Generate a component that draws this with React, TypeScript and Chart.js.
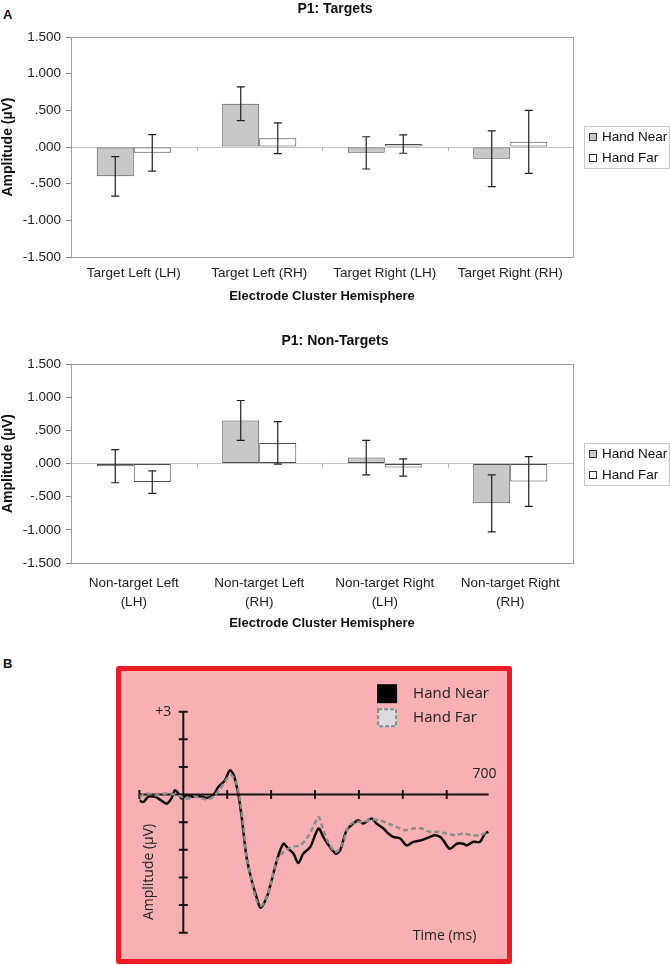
import { useEffect, useRef } from "react"
import { Chart, registerables, ChartConfiguration, Plugin } from "chart.js"

Chart.register(...registerables)

const AXIS_FONT = "'Liberation Sans', Arial, sans-serif"
const ERP_FONT = "'Open Sans', 'Noto Sans', sans-serif"
Chart.defaults.font.family = AXIS_FONT

// the figure is laid out from the page's top-left corner
document.body.style.margin = "0"

// Panel A, top: targets
const targetCategories = ["Target Left (LH)", "Target Left (RH)", "Target Right (LH)", "Target Right (RH)"]
const targetNear = [-0.4, 0.59, -0.08, -0.16]
const targetNearErr = [0.27, 0.23, 0.22, 0.38]
const targetFar = [-0.08, 0.12, 0.04, 0.07]
const targetFarErr = [0.25, 0.21, 0.125, 0.43]

// Panel A, bottom: non-targets
const nonTargetCategories = [
	["Non-target Left", "(LH)"],
	["Non-target Left", "(RH)"],
	["Non-target Right", "(LH)"],
	["Non-target Right", "(RH)"]
]
const nonTargetNear = [-0.04, 0.65, 0.09, -0.6]
const nonTargetNearErr = [0.25, 0.3, 0.26, 0.43]
const nonTargetFar = [-0.28, 0.31, -0.06, -0.27]
const nonTargetFarErr = [0.17, 0.32, 0.13, 0.375]

// Panel B: ERP waveforms (ms, µV)
const nearTimes = [
	-100, -91, -80, -65, -53, -38, -27, -19, -11, -4, 8, 23, 38, 53, 68, 80, 95, 106, 115, 125, 133, 144, 156, 167, 176,
	190, 201, 213, 228, 239, 251, 262, 273, 289, 308, 319, 334, 348, 357, 372, 387, 399, 410, 429, 440, 456, 467, 478,
	494, 509, 524, 543, 562, 573, 585, 592, 607, 623, 638, 645, 661, 676, 687, 695
]
const nearAmplitude = [
	-0.21, -0.27, -0.08, -0.08, -0.18, -0.33, -0.14, 0.16, 0.04, -0.14, -0.02, -0.08, -0.06, -0.12, -0.02, 0.28, 0.52,
	0.88, 0.7, 0.04, -0.81, -2.26, -3.12, -3.72, -4.1, -3.72, -3.12, -2.39, -1.78, -1.96, -2.14, -2.48, -2.14, -1.9,
	-1.23, -1.54, -1.9, -2.14, -2.02, -1.29, -1.05, -0.93, -1.05, -0.87, -1.05, -1.23, -1.41, -1.53, -1.59, -1.84, -1.71,
	-1.65, -1.53, -1.47, -1.53, -1.65, -1.96, -1.78, -1.78, -1.84, -1.71, -1.71, -1.41, -1.35
]
const farTimes = [
	-100, -84, -61, -38, -15, 8, 30, 53, 68, 84, 103, 110, 120, 129, 137, 144, 156, 167, 178, 190, 201, 213, 228, 247, 266,
	281, 296, 308, 319, 334, 349, 364, 376, 391, 410, 429, 448, 467, 486, 505, 524, 543, 562, 581, 600, 619, 638, 657,
	676, 695
]
const farAmplitude = [
	-0.08, 0.04, -0.02, 0.04, -0.02, -0.14, -0.08, -0.18, -0.08, 0.22, 0.64, 0.7, 0.46, -0.2, -1.17, -2.26, -3.12, -3.84,
	-4.02, -3.72, -3.12, -2.39, -2.08, -1.9, -1.84, -1.59, -1.17, -0.81, -1.29, -1.84, -2.08, -1.71, -1.17, -0.99, -0.99,
	-0.91, -0.93, -1.05, -1.17, -1.29, -1.23, -1.23, -1.35, -1.35, -1.41, -1.47, -1.41, -1.47, -1.47, -1.32
]
const timeTicks = [-100, 100, 200, 300, 400, 500, 600]
const amplitudeTicks = [-5, -4, -3, -2, -1, 0, 1, 2, 3]

function fmtAmp(v: number) {
	const s = Math.abs(v).toFixed(3).replace(/^0/, "")
	return (v < -1e-9 ? "-" : "") + s
}

const errorBars: Plugin<"bar"> = {
	id: "errorBars",
	afterDatasetsDraw(chart) {
		const { ctx } = chart
		const y = chart.scales.y
		ctx.save()
		ctx.strokeStyle = "#1f1f1f"
		ctx.lineWidth = 1.2
		chart.data.datasets.forEach((ds: any, i) => {
			chart.getDatasetMeta(i).data.forEach((bar, j) => {
				const v = ds.data[j] as number
				const e = ds.errors[j] as number
				const top = y.getPixelForValue(v + e)
				const bot = y.getPixelForValue(v - e)
				ctx.beginPath()
				ctx.moveTo(bar.x, top)
				ctx.lineTo(bar.x, bot)
				ctx.moveTo(bar.x - 4, top)
				ctx.lineTo(bar.x + 4, top)
				ctx.moveTo(bar.x - 4, bot)
				ctx.lineTo(bar.x + 4, bot)
				ctx.stroke()
			})
		})
		ctx.restore()
	}
}

const plotFrame: Plugin<"bar"> = {
	id: "plotFrame",
	beforeDatasetsDraw(chart) {
		const { ctx, chartArea } = chart
		const xs = chart.scales.x
		const y0 = chart.scales.y.getPixelForValue(0)
		ctx.save()
		ctx.strokeStyle = "#a0a0a0"
		ctx.lineWidth = 1
		ctx.strokeRect(
			Math.round(chartArea.left) + 0.5,
			Math.round(chartArea.top) + 0.5,
			Math.round(chartArea.width),
			Math.round(chartArea.height)
		)
		ctx.strokeStyle = "#b0b0b0"
		ctx.beginPath()
		for (let k = 1; k < chart.data.labels!.length; k++) {
			const x = Math.round((xs.getPixelForValue(k - 1) + xs.getPixelForValue(k)) / 2) + 0.5
			ctx.moveTo(x, y0)
			ctx.lineTo(x, y0 + 4)
		}
		ctx.stroke()
		ctx.restore()
	}
}

const boxLegend: Plugin<"bar"> = {
	id: "boxLegend",
	afterDraw(chart) {
		const { ctx, chartArea, width } = chart
		const left = Math.round(chartArea.right) + 11
		const w = width - left - 1
		const h = 42
		const top = Math.round((chartArea.top + chartArea.bottom) / 2 - h / 2)
		ctx.save()
		ctx.strokeStyle = "#c8c8c8"
		ctx.lineWidth = 1
		ctx.strokeRect(left + 0.5, top + 0.5, w, h)
		ctx.font = `13.5px ${AXIS_FONT}`
		ctx.textBaseline = "middle"
		chart.data.datasets.forEach((ds, i) => {
			const cy = top + 11 + i * 21
			ctx.fillStyle = ds.backgroundColor as string
			ctx.fillRect(left + 5, cy - 4, 8, 8)
			ctx.strokeStyle = "#333"
			ctx.strokeRect(left + 5.5, cy - 3.5, 7, 7)
			ctx.fillStyle = "#111"
			ctx.fillText(ds.label as string, left + 18, cy)
		})
		ctx.restore()
	}
}

type BarPanelProps = {
	top: number
	height: number
	title: string
	categories: (string | string[])[]
	near: number[]
	nearErr: number[]
	far: number[]
	farErr: number[]
	titlePad: { top: number; bottom: number }
	axisHeight: number
	labelPad: number
	labelLineHeight: number
}

function makeBarConfig(p: BarPanelProps): ChartConfiguration<"bar"> {
	const bar = {
		borderColor: "#4d4d4d",
		borderWidth: 1,
		borderSkipped: false as const,
		categoryPercentage: 0.59,
		barPercentage: 1
	}
	return {
		type: "bar",
		data: {
			labels: p.categories,
			datasets: [
				{ label: "Hand Near", data: p.near, errors: p.nearErr, backgroundColor: "#c8c8c8", ...bar } as any,
				{ label: "Hand Far", data: p.far, errors: p.farErr, backgroundColor: "#ffffff", ...bar } as any
			]
		},
		options: {
			animation: false,
			responsive: true,
			maintainAspectRatio: false,
			events: [],
			layout: { padding: 0 },
			plugins: {
				legend: { display: false },
				tooltip: { enabled: false },
				title: {
					display: true,
					text: p.title,
					color: "#111",
					font: { size: 14, weight: "bold" },
					padding: p.titlePad
				}
			},
			scales: {
				x: {
					grid: { display: false, drawTicks: false },
					border: { display: false },
					ticks: {
						color: "#222",
						font: { size: 13.5, lineHeight: p.labelLineHeight },
						padding: p.labelPad,
						maxRotation: 0,
						autoSkip: false
					},
					title: {
						display: true,
						text: "Electrode Cluster Hemisphere",
						color: "#111",
						font: { size: 13, weight: "bold" },
						padding: { top: 0, bottom: 1 }
					},
					afterFit(s) {
						s.height = p.axisHeight
					}
				},
				y: {
					min: -1.5,
					max: 1.5,
					grid: {
						color: (c) => (c.tick && c.tick.value === 0 ? "#c4c4c4" : "rgba(0,0,0,0)"),
						tickColor: "#8a8a8a",
						tickLength: 5
					},
					border: { display: false },
					ticks: {
						stepSize: 0.5,
						padding: 5,
						color: "#222",
						font: { size: 13.5 },
						callback: (v) => fmtAmp(Number(v))
					},
					title: {
						display: true,
						text: "Amplitude (µV)",
						color: "#111",
						font: { size: 14, weight: "bold" },
						padding: 0
					},
					afterFit(s) {
						s.width = 71
					}
				},
				legendSpace: {
					type: "linear",
					position: "right",
					display: true,
					grid: { display: false },
					border: { display: false },
					ticks: { display: false },
					afterFit(s) {
						s.width = 97
					}
				}
			}
		},
		plugins: [plotFrame, errorBars, boxLegend]
	}
}

function BarPanel(props: BarPanelProps) {
	const canvasRef = useRef<HTMLCanvasElement>(null)

	useEffect(() => {
		const chart = new Chart(canvasRef.current as HTMLCanvasElement, makeBarConfig(props))
		return () => {
			chart.destroy()
		}
	}, [])

	return (
		<div style={{ position: "absolute", left: 0, top: props.top, width: 670, height: props.height }}>
			<canvas ref={canvasRef} />
		</div>
	)
}

const erpAxes: Plugin<"line"> = {
	id: "erpAxes",
	beforeDatasetsDraw(chart) {
		const { ctx } = chart
		const xs = chart.scales.x
		const ys = chart.scales.y
		const x0 = xs.getPixelForValue(0)
		const y0 = ys.getPixelForValue(0)
		ctx.save()
		ctx.strokeStyle = "#151515"
		ctx.lineWidth = 2
		ctx.beginPath()
		ctx.moveTo(xs.getPixelForValue(-100), y0)
		ctx.lineTo(xs.getPixelForValue(700) - 2, y0)
		ctx.moveTo(x0, ys.getPixelForValue(3))
		ctx.lineTo(x0, ys.getPixelForValue(-5))
		timeTicks.forEach((t) => {
			const px = xs.getPixelForValue(t)
			ctx.moveTo(px, y0 - 4.5)
			ctx.lineTo(px, y0 + 4.5)
		})
		amplitudeTicks.forEach((v) => {
			const py = ys.getPixelForValue(v)
			ctx.moveTo(x0 - 4.5, py)
			ctx.lineTo(x0 + 4.5, py)
		})
		ctx.stroke()
		ctx.restore()
	},
	afterDraw(chart) {
		const { ctx, chartArea } = chart
		const xs = chart.scales.x
		const ys = chart.scales.y
		const x0 = xs.getPixelForValue(0)
		const y0 = ys.getPixelForValue(0)
		ctx.save()
		ctx.fillStyle = "#222"
		ctx.font = `14px ${ERP_FONT}`
		ctx.textBaseline = "middle"
		ctx.textAlign = "right"
		ctx.fillText("+3", x0 - 12, ys.getPixelForValue(3))
		ctx.textAlign = "center"
		ctx.fillText("700", xs.getPixelForValue(700) - 6, y0 - 21)
		ctx.fillText("Time (ms)", xs.getPixelForValue(595), chartArea.bottom + 3.5)
		ctx.save()
		ctx.translate(x0 - 34, ys.getPixelForValue(-2.8))
		ctx.rotate(-Math.PI / 2)
		ctx.fillText("Amplitude (µV)", 0, 0)
		ctx.restore()

		// legend
		const sx = chartArea.right - 113.5
		const sy = chartArea.top - 27.5
		ctx.fillStyle = "#000"
		ctx.fillRect(sx, sy, 20, 19)
		ctx.fillStyle = "#dcdcdc"
		ctx.fillRect(sx, sy + 24, 20, 19)
		ctx.strokeStyle = "#8c8c8c"
		ctx.lineWidth = 2
		ctx.setLineDash([4, 2])
		ctx.strokeRect(sx + 1, sy + 25, 18, 17)
		ctx.setLineDash([])
		ctx.fillStyle = "#222"
		ctx.font = `15px ${ERP_FONT}`
		ctx.textAlign = "left"
		chart.data.datasets.forEach((ds, i) => {
			ctx.fillText(ds.label as string, sx + 36, sy + 10 + i * 24)
		})
		ctx.restore()
	}
}

const erpConfig: ChartConfiguration<"line"> = {
	type: "line",
	data: {
		datasets: [
			{
				label: "Hand Near",
				data: nearTimes.map((t, i) => ({ x: t, y: nearAmplitude[i] })),
				borderColor: "#0d0d0d",
				backgroundColor: "#000",
				borderWidth: 2.5,
				pointRadius: 0,
				tension: 0.3,
				order: 2
			},
			{
				label: "Hand Far",
				data: farTimes.map((t, i) => ({ x: t, y: farAmplitude[i] })),
				borderColor: "#8c8c8c",
				backgroundColor: "#dcdcdc",
				borderDash: [5, 3],
				borderWidth: 2.5,
				pointRadius: 0,
				tension: 0.3,
				order: 1
			}
		]
	},
	options: {
		animation: false,
		responsive: true,
		maintainAspectRatio: false,
		events: [],
		layout: { padding: { left: 18.4, right: 16.4, top: 40.7, bottom: 26.3 } },
		scales: {
			x: { type: "linear", min: -100, max: 700, display: false },
			y: { min: -5, max: 3, display: false }
		},
		plugins: {
			legend: { display: false },
			tooltip: { enabled: false }
		}
	},
	plugins: [erpAxes]
}

function ErpPanel() {
	const canvasRef = useRef<HTMLCanvasElement>(null)

	useEffect(() => {
		const chart = new Chart(canvasRef.current as HTMLCanvasElement, erpConfig)
		return () => {
			chart.destroy()
		}
	}, [])

	return (
		<div
			style={{
				position: "absolute",
				left: 116,
				top: 666,
				width: 396,
				height: 298,
				boxSizing: "border-box",
				border: "5px solid #ed1c24",
				borderRadius: 3,
				background: "#f8b0b3"
			}}
		>
			<div style={{ position: "relative", width: 386, height: 288 }}>
				<canvas ref={canvasRef} />
			</div>
		</div>
	)
}

const panelLabel = {
	position: "absolute" as const,
	left: 3,
	fontFamily: AXIS_FONT,
	fontWeight: "bold",
	fontSize: 13,
	lineHeight: "13px",
	color: "#111"
}

export default function App() {
	return (
		<div style={{ position: "relative", width: 670, height: 965, background: "#fff" }}>
			<div style={{ ...panelLabel, top: 8 }}>A</div>
			<BarPanel
				top={0}
				height={305}
				title="P1: Targets"
				categories={targetCategories}
				near={targetNear}
				nearErr={targetNearErr}
				far={targetFar}
				farErr={targetFarErr}
				titlePad={{ top: 1, bottom: 19.2 }}
				axisHeight={48}
				labelPad={8}
				labelLineHeight={1.2}
			/>
			<BarPanel
				top={320}
				height={312}
				title="P1: Non-Targets"
				categories={nonTargetCategories}
				near={nonTargetNear}
				nearErr={nonTargetNearErr}
				far={nonTargetFar}
				farErr={nonTargetFarErr}
				titlePad={{ top: 12.6, bottom: 14.6 }}
				axisHeight={69}
				labelPad={10.5}
				labelLineHeight={1.4}
			/>
			<div style={{ ...panelLabel, top: 657 }}>B</div>
			<ErpPanel />
		</div>
	)
}
